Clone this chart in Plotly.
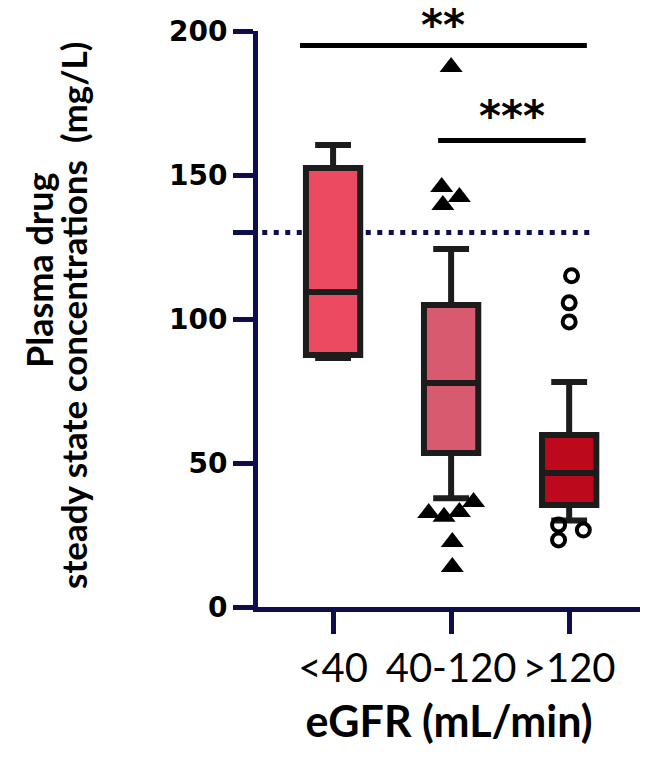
import plotly.graph_objects as go

# ---- data ----
categories = ["<40", "40-120", ">120"]
q1 = [87.5, 53.5, 35.4]
median = [109.4, 77.8, 46.5]
q3 = [152.4, 104.9, 59.7]
lowerfence = [86.5, 37.8, 30.0]
upperfence = [160.4, 124.3, 78.1]
box_fill = ["#ec4a60", "#d85a6e", "#bc0a1c"]

# outliers of group 40-120 (triangles)
tri_x = [1, 0.92, 1.07, 0.93, 0.81, 0.94, 1.07, 1.19, 1.01, 1.01]
tri_y = [187.5, 145.8, 142.4, 139.6, 32.6, 31.3, 33.0, 36.5, 22.6, 13.9]
# outliers of group >120 (open circles)
circ_x = [2.02, 2.0, 2.0, 1.91, 2.12, 1.91]
circ_y = [115.0, 105.6, 99.0, 28.5, 26.7, 23.3]

threshold = 130
sig_lines = [(-0.28, 2.15, 195.0, "**"), (0.89, 2.14, 162.0, "***")]

y_ticks = [0, 50, 100, 130, 150, 200]
y_ticktext = ["0", "50", "100", "", "150", "200"]

NAVY = "#0e0e4e"
# plot area in pixels: x 258..640, y 31..607
def py2paper(py):
    return (607 - py) / 576

def px2paper(px):
    return (px - 258) / 382

fig = go.Figure()

for i in range(3):
    fig.add_trace(go.Box(
        x=[i], q1=[q1[i]], median=[median[i]], q3=[q3[i]],
        lowerfence=[lowerfence[i]], upperfence=[upperfence[i]],
        width=0.46, whiskerwidth=0.66, fillcolor=box_fill[i],
        line=dict(color="#1c1c1c", width=6), boxpoints=False,
        showlegend=False, hoverinfo="skip"))

fig.add_trace(go.Scatter(x=tri_x, y=tri_y, mode="markers",
                         marker=dict(symbol="triangle-up", size=20, color="black"),
                         showlegend=False, cliponaxis=False))
fig.add_trace(go.Scatter(x=circ_x, y=circ_y, mode="markers",
                         marker=dict(symbol="circle-open", size=13, color="black",
                                     line=dict(width=4, color="black")),
                         showlegend=False, cliponaxis=False))

# threshold dotted line
fig.add_shape(type="line", xref="x", yref="y", x0=-0.6, x1=2.18, y0=threshold, y1=threshold,
              line=dict(color=NAVY, width=5, dash="5px,6.5px"), layer="below")

# text positions (pixel y of the top of the text box)
sig_text_top = [0, 91]
for (x0, x1, yv, txt), tpy in zip(sig_lines, sig_text_top):
    fig.add_shape(type="line", xref="x", yref="y", x0=x0, x1=x1, y0=yv, y1=yv,
                  line=dict(color="black", width=5))
    fig.add_annotation(x=(x0 + x1) / 2, y=py2paper(tpy), xref="x", yref="paper", text=txt,
                       showarrow=False, yanchor="top", borderpad=0,
                       font=dict(family="DejaVu Sans", size=42, color="black", weight="bold"))

fig.update_layout(
    width=650, height=765,
    margin=dict(l=258, r=10, t=31, b=158),
    plot_bgcolor="white", paper_bgcolor="white",
    xaxis=dict(range=[-0.636, 2.6], tickvals=[0, 1, 2], ticktext=categories,
               showline=True, linecolor=NAVY, linewidth=5,
               ticks="outside", ticklen=22, tickwidth=5, tickcolor=NAVY,
               tickfont=dict(family="Lato", size=40, color="black"),
               showgrid=False, zeroline=False,
               title=dict(text="eGFR (mL/min)",
                          font=dict(family="Lato", size=43, color="black", weight="bold"),
                          standoff=18)),
    yaxis=dict(range=[0, 200], tickvals=y_ticks, ticktext=y_ticktext,
               showline=True, linecolor=NAVY, linewidth=5,
               ticks="outside", ticklen=20, tickwidth=5, tickcolor=NAVY,
               tickfont=dict(family="DejaVu Sans", size=28, color="black", weight="bold"),
               showgrid=False, zeroline=False),
)

fig.add_annotation(x=px2paper(39), y=py2paper(270), xref="paper", yref="paper",
                   text="Plasma drug", textangle=-90, showarrow=False,
                   xanchor="center", yanchor="middle",
                   font=dict(family="Lato", size=36, color="black", weight="bold"))
fig.add_annotation(x=px2paper(73), y=py2paper(316), xref="paper", yref="paper",
                   text="steady state concentrations  (mg/L)", textangle=-90, showarrow=False,
                   xanchor="center", yanchor="middle",
                   font=dict(family="Lato", size=35, color="black", weight="bold"))

fig.write_html("out.html")
